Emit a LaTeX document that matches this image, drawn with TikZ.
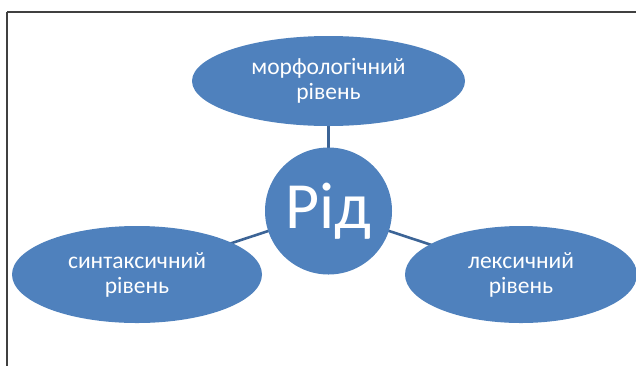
\documentclass[tikz,border=0pt]{standalone}
\usepackage{fontspec}
\setmainfont{Carlito}
\usetikzlibrary{shapes.geometric}
\definecolor{nodeblue}{HTML}{4F81BD}
\definecolor{linkblue}{HTML}{3C6496}
\definecolor{framegray}{HTML}{404040}
\pgfdeclarelayer{back}
\pgfsetlayers{back,main}
\begin{document}
\begin{tikzpicture}[x=1pt,y=-1pt,
  level/.style={ellipse,fill=nodeblue,draw=none,text=white,inner sep=0pt,
    font=\fontsize{23.5}{25}\selectfont,align=center},
  hub/.style={circle,fill=nodeblue,draw=none,text=white,minimum size=127pt,inner sep=0pt,
    font=\fontsize{66}{70}\selectfont},
  link/.style={draw=linkblue,line width=2.6pt}]
\useasboundingbox (0,0) rectangle (636,365);
\draw[framegray,line width=1.3pt] (7,12) -- (640,12);
\draw[framegray,line width=1.3pt] (7,12) -- (7,370);
\node[level,minimum width=273pt,minimum height=90pt] (top) at (328.5,81) {морфологічний\\рівень};
\node[level,minimum width=250pt,minimum height=97pt] (left) at (137,274.5) {синтаксичний\\рівень};
\node[level,minimum width=232pt,minimum height=97pt] (right) at (521,274.5) {лексичний\\рівень};
\node[hub] (hub) at (328.5,211) {Рід};
\begin{pgfonlayer}{back}
\draw[link] (top.center) -- (hub.center);
\draw[link] (hub.center) -- (left.center);
\draw[link] (hub.center) -- (right.center);
\end{pgfonlayer}
\end{tikzpicture}
\end{document}
